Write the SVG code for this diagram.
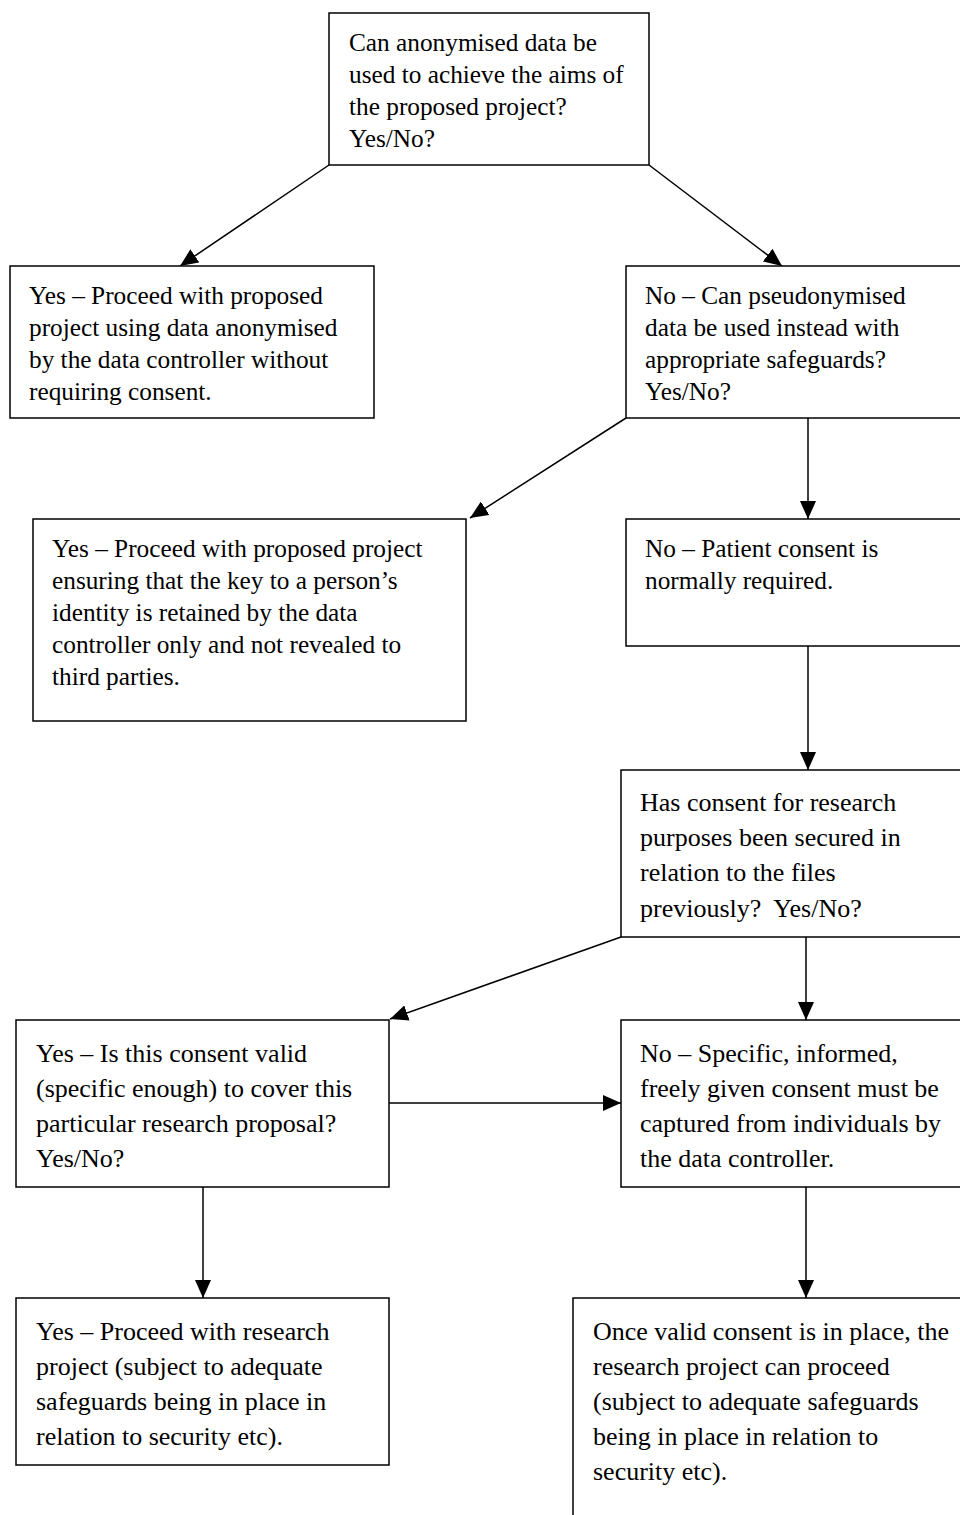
<svg xmlns="http://www.w3.org/2000/svg" width="960" height="1515" viewBox="0 0 960 1515">
<defs>
<style>
.box{fill:#fff;stroke:#000;stroke-width:1.5}
.t{font-family:"Liberation Serif","Times New Roman",serif;font-size:25.3px;fill:#000}
.t2{font-family:"Liberation Serif","Times New Roman",serif;font-size:26px;fill:#000}
.c{stroke:#000;stroke-width:1.5;fill:none;marker-end:url(#ah)}
</style>
<marker id="ah" viewBox="0 0 18 16" refX="18" refY="8" markerWidth="18" markerHeight="16" markerUnits="userSpaceOnUse" orient="auto">
<path d="M0,0 L18,8 L0,16 z" fill="#000"/>
</marker>
</defs>
<rect width="960" height="1515" fill="#fff"/>
<g id="connectors">
<line class="c" x1="329" y1="165" x2="180" y2="266"/>
<line class="c" x1="649" y1="165" x2="782" y2="266"/>
<line class="c" x1="626" y1="418" x2="470" y2="518"/>
<line class="c" x1="808" y1="418" x2="808" y2="519"/>
<line class="c" x1="808" y1="646" x2="808" y2="770"/>
<line class="c" x1="621" y1="937" x2="390" y2="1019"/>
<line class="c" x1="806" y1="937" x2="806" y2="1020"/>
<line class="c" x1="389" y1="1103" x2="621" y2="1103"/>
<line class="c" x1="203" y1="1187" x2="203" y2="1298"/>
<line class="c" x1="806" y1="1187" x2="806" y2="1298"/>
</g>
<g id="n1">
<rect class="box" x="329" y="13" width="320" height="152"/>
<text class="t" x="349" y="51">Can anonymised data be</text>
<text class="t" x="349" y="83">used to achieve the aims of</text>
<text class="t" x="349" y="115">the proposed project?</text>
<text class="t" x="349" y="147">Yes/No?</text>
</g>
<g id="n2">
<rect class="box" x="10" y="266" width="364" height="152"/>
<text class="t" x="29" y="304">Yes – Proceed with proposed</text>
<text class="t" x="29" y="336">project using data anonymised</text>
<text class="t" x="29" y="368">by the data controller without</text>
<text class="t" x="29" y="400">requiring consent.</text>
</g>
<g id="n3">
<rect class="box" x="626" y="266" width="340" height="152"/>
<text class="t" x="645" y="304">No – Can pseudonymised</text>
<text class="t" x="645" y="336">data be used instead with</text>
<text class="t" x="645" y="368">appropriate safeguards?</text>
<text class="t" x="645" y="400">Yes/No?</text>
</g>
<g id="n4">
<rect class="box" x="33" y="519" width="433" height="202"/>
<text class="t" x="52" y="557">Yes – Proceed with proposed project</text>
<text class="t" x="52" y="589">ensuring that the key to a person’s</text>
<text class="t" x="52" y="621">identity is retained by the data</text>
<text class="t" x="52" y="653">controller only and not revealed to</text>
<text class="t" x="52" y="685">third parties.</text>
</g>
<g id="n5">
<rect class="box" x="626" y="519" width="340" height="127"/>
<text class="t" x="645" y="557">No – Patient consent is</text>
<text class="t" x="645" y="589">normally required.</text>
</g>
<g id="n6">
<rect class="box" x="621" y="770" width="345" height="167"/>
<text class="t2" x="640" y="811">Has consent for research</text>
<text class="t2" x="640" y="846">purposes been secured in</text>
<text class="t2" x="640" y="881">relation to the files</text>
<text class="t2" x="640" y="917" xml:space="preserve">previously?  Yes/No?</text>
</g>
<g id="n7">
<rect class="box" x="16" y="1020" width="373" height="167"/>
<text class="t2" x="36" y="1062">Yes – Is this consent valid</text>
<text class="t2" x="36" y="1097">(specific enough) to cover this</text>
<text class="t2" x="36" y="1132">particular research proposal?</text>
<text class="t2" x="36" y="1167">Yes/No?</text>
</g>
<g id="n8">
<rect class="box" x="621" y="1020" width="345" height="167"/>
<text class="t2" x="640" y="1062">No – Specific, informed,</text>
<text class="t2" x="640" y="1097">freely given consent must be</text>
<text class="t2" x="640" y="1132">captured from individuals by</text>
<text class="t2" x="640" y="1167">the data controller.</text>
</g>
<g id="n9">
<rect class="box" x="16" y="1298" width="373" height="167"/>
<text class="t2" x="36" y="1340">Yes – Proceed with research</text>
<text class="t2" x="36" y="1375">project (subject to adequate</text>
<text class="t2" x="36" y="1410">safeguards being in place in</text>
<text class="t2" x="36" y="1445">relation to security etc).</text>
</g>
<g id="n10">
<rect class="box" x="573" y="1298" width="393" height="230"/>
<text class="t2" x="593" y="1340">Once valid consent is in place, the</text>
<text class="t2" x="593" y="1375">research project can proceed</text>
<text class="t2" x="593" y="1410">(subject to adequate safeguards</text>
<text class="t2" x="593" y="1445">being in place in relation to</text>
<text class="t2" x="593" y="1480">security etc).</text>
</g>
</svg>
